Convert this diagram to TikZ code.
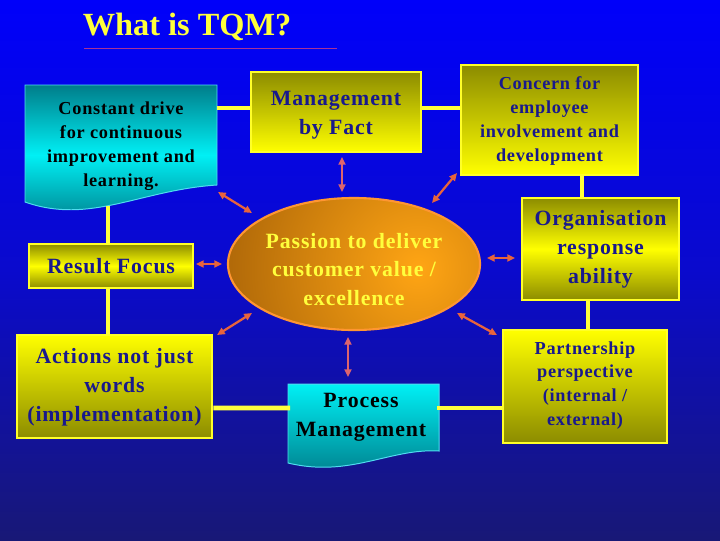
\documentclass[tikz,border=0pt]{standalone}
\usepackage{fontspec}
\setmainfont{Liberation Serif}
\newfontfamily\spacedfont[LetterSpace=4]{Liberation Serif}
\usetikzlibrary{shapes.geometric,arrows.meta}
\definecolor{bgtop}{RGB}{0,0,250}
\definecolor{bgmid}{RGB}{10,10,205}
\definecolor{bgbot}{RGB}{24,24,118}
\definecolor{yolive}{RGB}{140,140,0}
\definecolor{yyel}{RGB}{255,255,0}
\definecolor{ybord}{RGB}{255,255,40}
\definecolor{ylink}{RGB}{255,255,60}
\definecolor{tblue}{RGB}{25,25,140}
\definecolor{cteal}{RGB}{0,125,138}
\definecolor{ccyan}{RGB}{0,240,245}
\definecolor{cbord}{RGB}{80,220,240}
\definecolor{arrc}{RGB}{232,100,60}
\definecolor{arrv}{RGB}{220,100,110}
\definecolor{ellc}{RGB}{255,150,50}
\definecolor{ellin}{RGB}{255,165,20}
\definecolor{ellout}{RGB}{115,58,0}
\definecolor{ytext}{RGB}{255,255,60}
\definecolor{ttl}{RGB}{255,255,60}
\definecolor{ulc}{RGB}{170,50,150}
\begin{document}
\begin{tikzpicture}[x=0.025cm,y=-0.025cm,
  bigf/.style={font=\spacedfont\bfseries\fontsize{15.5}{20.5}\selectfont},
  smallf/.style={font=\spacedfont\bfseries\fontsize{13}{17}\selectfont},
  ybox/.style={draw=ybord, line width=2pt, inner sep=0pt},
  btext/.style={align=center, text=tblue, inner sep=0pt},
  ctext/.style={align=center, text=black, inner sep=0pt},
  link/.style={draw=ylink, line width=3.5pt},
  arr/.style={draw=arrc, line width=1.6pt, {Triangle[length=5.5pt,width=5pt]}-{Triangle[length=5.5pt,width=5pt]}}
]
\shade[top color=bgtop, bottom color=bgbot, middle color=bgmid] (0,0) rectangle (720,540);
\useasboundingbox (0,0) rectangle (720,540);

% title
\node[font=\bfseries\fontsize{23}{27}\selectfont, text=ttl] (title) at (187,27) {What is TQM?};
\coordinate (ulA) at (84,48);
\coordinate (ulB) at (337,48);
\draw[ulc, line width=0.7pt] (ulA) -- (ulB);

\coordinate (constE) at (217,108);
\coordinate (constS) at (108,206);
\coordinate (procE) at (437,408);
\coordinate (procW) at (290,408);

% yellow boxes
\node[ybox, minimum width=4.25cm, minimum height=2cm, top color=yolive, bottom color=yyel] (mgmt) at (336,112) {};
\node[btext, bigf] (mgmtT) at (336,115) {Management\\by Fact};
\node[ybox, minimum width=4.425cm, minimum height=2.75cm, top color=yolive, bottom color=yyel] (concern) at (549.5,120) {};
\node[btext, smallf] (concernT) at (549.5,121) {Concern for\\employee\\involvement and\\development};
\node[ybox, minimum width=3.925cm, minimum height=2.55cm, top color=yolive, bottom color=yolive, middle color=yyel] (org) at (600.5,249) {};
\node[btext, bigf] (orgT) at (600.5,249) {Organisation\\response\\ability};
\node[ybox, minimum width=4.1cm, minimum height=2.825cm, top color=yyel, bottom color=yolive] (part) at (585,386.5) {};
\node[btext, smallf] (partT) at (585,385.5) {Partnership\\perspective\\(internal /\\external)};
\node[ybox, minimum width=4.875cm, minimum height=2.575cm, top color=yyel, bottom color=yolive] (act) at (114.5,386.5) {};
\node[btext, bigf] (actT) at (114.5,387) {Actions not just\\words\\(implementation)};
\node[ybox, minimum width=4.1cm, minimum height=1.1cm, top color=yolive, bottom color=yolive, middle color=yyel] (res) at (111,266) {};
\node[btext, bigf] (resT) at (111,266) {Result Focus};

% cyan document shapes
\shadedraw[top color=cteal, bottom color=cteal, middle color=ccyan, draw=cbord, line width=0.7pt]
  (25,85) -- (217,85) -- (217,185) .. controls (140,190) and (90,225) .. (25,202) -- cycle;
\node[ctext, smallf] (const) at (121,146) {Constant drive\\for continuous\\improvement and\\learning.};
\shadedraw[top color=ccyan, bottom color=cteal, draw=cbord, line width=0.7pt]
  (288,384) -- (439,384) -- (439,451) .. controls (390,448) and (350,478) .. (288,463) -- cycle;
\node[ctext, bigf] (proc) at (361,417) {Process\\Management};

% central ellipse
\node[ellipse, draw=ellc, line width=1.5pt, minimum width=6.3cm, minimum height=3.3cm, inner sep=0pt,
  path picture={\shade[inner color=ellin, outer color=ellout] ([xshift=1.6cm,yshift=-0.1cm]path picture bounding box.center) circle (8.5cm);}]
  (ell) at (354,264) {};
\node[align=center, text=ytext, bigf, inner sep=0pt] (ellT) at (354,269.5) {Passion to deliver\\customer value /\\excellence};

% yellow links
\draw[link] (constE) -- (constE -| mgmt.west);
\draw[link] ([yshift=0.1cm]mgmt.east) -- ([yshift=0.1cm]mgmt.east -| concern.west);
\draw[link] ([xshift=0.8125cm]concern.south) -- ([xshift=0.8125cm]concern.south |- org.north);
\draw[link] ([xshift=-0.3125cm]org.south) -- ([xshift=-0.3125cm]org.south |- part.north);
\draw[link] (procE) -- (procE -| part.west);
\draw[link] ([yshift=-0.5375cm]act.east) -- (procW);
\draw[link] (constS) -- (constS |- res.north);
\draw[link] ([xshift=-0.075cm]res.south) -- ([xshift=-0.075cm]res.south |- act.north);

% arrows
\coordinate (a1s) at (218,192); \coordinate (a1e) at (252,213);
\coordinate (a2s) at (342,157); \coordinate (a2e) at (342,192);
\coordinate (a3s) at (457,173); \coordinate (a3e) at (432,203);
\coordinate (a4s) at (196,264); \coordinate (a4e) at (222,264);
\coordinate (a5s) at (487,258); \coordinate (a5e) at (515,258);
\coordinate (a6s) at (252,313); \coordinate (a6e) at (217,335);
\coordinate (a7s) at (348,337); \coordinate (a7e) at (348,377);
\coordinate (a8s) at (457,313); \coordinate (a8e) at (497,335);
\draw[arr] (a1s) -- (a1e);
\draw[arr, draw=arrv] (a2s) -- (a2e);
\draw[arr] (a3s) -- (a3e);
\draw[arr] (a4s) -- (a4e);
\draw[arr] (a5s) -- (a5e);
\draw[arr] (a6s) -- (a6e);
\draw[arr, draw=arrv] (a7s) -- (a7e);
\draw[arr] (a8s) -- (a8e);
\end{tikzpicture}
\end{document}
